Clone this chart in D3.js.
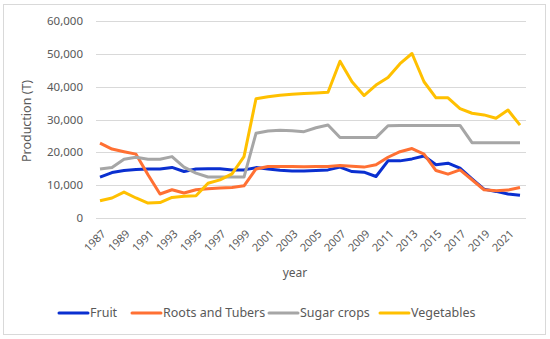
<!DOCTYPE html>
<html>
<head>
<meta charset="utf-8">
<script src="https://cdn.jsdelivr.net/npm/d3@7"></script>
<style>
  body { margin: 0; background: #fff; }
  text { font-family: "Noto Sans", "Liberation Sans", sans-serif; fill: #595959; }
</style>
</head>
<body>
<div class="chart"></div>
<script>
// Data
var years = d3.range(1987, 2023);
var fruit = [12450, 13850, 14450, 14750, 14900, 14900, 15400, 14150, 14900, 15000,
  15000, 14650, 14650, 15350, 14950, 14550, 14350, 14300, 14450, 14650,
  15500, 14150, 13950, 12650, 17400, 17400, 18000, 18900, 16200, 16700,
  15200, 11950, 8800, 8100, 7300, 6900];
var roots = [22800, 21000, 20200, 19450, 13150, 7300, 8600, 7600, 8600, 8900,
  9100, 9300, 9800, 14950, 15700, 15700, 15700, 15600, 15700, 15700,
  16000, 15750, 15500, 16200, 18500, 20200, 21150, 19450, 14450, 13350,
  14650, 11650, 8600, 8300, 8500, 9300];
var sugar = [14900, 15400, 17900, 18500, 17900, 17900, 18700, 15500, 13650, 12500,
  12450, 12450, 12450, 25800, 26500, 26700, 26600, 26300, 27500, 28300,
  24500, 24500, 24500, 24500, 28100, 28200, 28200, 28200, 28200, 28200,
  28200, 22950, 22950, 22950, 22950, 22950];
var vegetables = [5250, 6100, 7900, 6100, 4550, 4700, 6250, 6600, 6800, 10600,
  11600, 13450, 18700, 36300, 36900, 37400, 37700, 37950, 38100, 38300,
  47750, 41500, 37300, 40500, 42800, 47000, 50100, 41500, 36600, 36600,
  33300, 31900, 31400, 30400, 32900, 28300];
var yTicks = [0, 10000, 20000, 30000, 40000, 50000, 60000];

var series = [
  {name: "Fruit", values: fruit, color: "#0a2fd0"},
  {name: "Roots and Tubers", values: roots, color: "#ff7033"},
  {name: "Sugar crops", values: sugar, color: "#a6a6a6"},
  {name: "Vegetables", values: vegetables, color: "#ffc000"}
];

var width = 550, height = 339;

var svg = d3.select(".chart").append("svg")
  .attr("width", width)
  .attr("height", height);

// outer frame
svg.append("rect")
  .attr("x", 3.5).attr("y", 4.5)
  .attr("width", 542).attr("height", 330)
  .attr("fill", "#fff")
  .attr("stroke", "#d9d9d9");

var x = d3.scalePoint().domain(years).range([100, 520]);
var y = d3.scaleLinear().domain([0, 60000]).range([218, 21]);

// gridlines + y labels
svg.append("g").selectAll("line")
  .data(yTicks)
  .enter().append("line")
  .attr("x1", 96).attr("x2", 526)
  .attr("y1", function(d) { return Math.round(y(d)) + 0.5; })
  .attr("y2", function(d) { return Math.round(y(d)) + 0.5; })
  .attr("stroke", "#d9d9d9");

svg.append("g").selectAll("text")
  .data(yTicks)
  .enter().append("text")
  .attr("x", 83)
  .attr("y", function(d) { return y(d); })
  .attr("dy", "0.35em")
  .attr("text-anchor", "end")
  .style("font-size", "11.5px")
  .text(d3.format(","));

// x labels, every second year
svg.append("g").selectAll("text")
  .data(years.filter(function(d, i) { return i % 2 == 0; }))
  .enter().append("text")
  .attr("transform", function(d) { return "translate(" + (x(d) + 1) + ",229) rotate(-45)"; })
  .attr("text-anchor", "end")
  .attr("dy", "0.7em")
  .style("font-size", "11px")
  .text(function(d) { return d; });

// axis titles
svg.append("text")
  .attr("x", 295).attr("y", 277)
  .attr("text-anchor", "middle")
  .style("font-size", "12px")
  .text("year");

svg.append("text")
  .attr("transform", "translate(31,121) rotate(-90)")
  .attr("text-anchor", "middle")
  .style("font-size", "12.5px")
  .text("Production (T)");

// lines
var line = d3.line()
  .x(function(d, i) { return x(years[i]); })
  .y(function(d) { return y(d); });

svg.append("g").selectAll("path")
  .data(series)
  .enter().append("path")
  .attr("d", function(d) { return line(d.values); })
  .attr("fill", "none")
  .attr("stroke", function(d) { return d.color; })
  .attr("stroke-width", 3)
  .attr("stroke-linejoin", "round");

// legend
var legendX = [59, 132, 269, 380];
var legend = svg.append("g").selectAll("g")
  .data(series)
  .enter().append("g")
  .attr("transform", function(d, i) { return "translate(" + legendX[i] + ",313)"; });

legend.append("line")
  .attr("x1", 0).attr("x2", 29)
  .attr("stroke", function(d) { return d.color; })
  .attr("stroke-width", 3)
  .attr("stroke-linecap", "round");

legend.append("text")
  .attr("x", 31)
  .attr("dy", "0.35em")
  .style("font-size", "12.5px")
  .text(function(d) { return d.name; });
</script>
</body>
</html>
